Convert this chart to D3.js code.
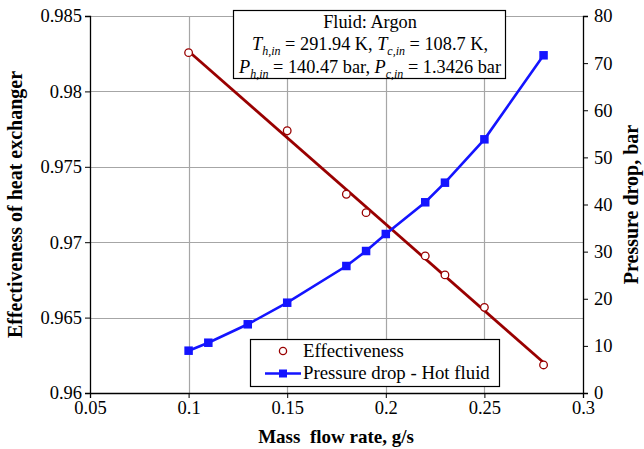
<!DOCTYPE html>
<html>
<head>
<meta charset="utf-8">
<script src="https://cdn.jsdelivr.net/npm/d3@7/dist/d3.min.js"></script>
<style>
  html, body { margin: 0; padding: 0; background: #fff; }
  svg { display: block; }
</style>
</head>
<body>
<svg id="chart" width="644" height="449"></svg>
<script>
// Mass flow rate, g/s
const effFlow = [0.10, 0.15, 0.18, 0.19, 0.22, 0.23, 0.25, 0.28];
// Effectiveness of heat exchanger
const effectiveness = [0.98257, 0.97739, 0.97318, 0.97196, 0.96909, 0.96783, 0.96568, 0.96186];

const dpFlow = [0.10, 0.11, 0.13, 0.15, 0.18, 0.19, 0.20, 0.22, 0.23, 0.25, 0.28];
// Pressure drop of the hot fluid, bar
const pressureDrop = [8.98, 10.67, 14.58, 19.16, 26.95, 30.13, 33.74, 40.47, 44.63, 53.83, 71.66];

const xTicks = [0.05, 0.10, 0.15, 0.20, 0.25, 0.30];
const yLeftTicks = [0.96, 0.965, 0.97, 0.975, 0.98, 0.985];
const yRightTicks = [0, 10, 20, 30, 40, 50, 60, 70, 80];

const FONT = "Liberation Serif";
const svg = d3.select("#chart").style("font-family", FONT);
const m = { left: 90, right: 583, top: 16, bottom: 393 };

const x = d3.scaleLinear().domain([0.05, 0.30]).range([m.left, m.right]);
const yL = d3.scaleLinear().domain([0.96, 0.985]).range([m.bottom, m.top]);
const yR = d3.scaleLinear().domain([0, 80]).range([m.bottom, m.top]);

const red = "#990000";
const blue = "#1414ff";

// grid
const grid = svg.append("g").attr("stroke", "#a6a6a6").attr("stroke-width", 1.2);
grid.selectAll("line.h").data(yLeftTicks.slice(1)).join("line")
  .attr("x1", m.left).attr("x2", m.right)
  .attr("y1", d => Math.round(yL(d)) + 0.5).attr("y2", d => Math.round(yL(d)) + 0.5);
grid.selectAll("line.v").data(xTicks.slice(1, -1)).join("line")
  .attr("y1", m.top).attr("y2", m.bottom)
  .attr("x1", d => Math.round(x(d)) + 0.5).attr("x2", d => Math.round(x(d)) + 0.5);

// axes
const fmtX = d => String(+d.toFixed(2));
const styleAxis = g => {
  g.attr("font-family", null);
  g.select(".domain").attr("stroke", "#000").attr("stroke-width", 1.3);
  g.selectAll(".tick line").attr("stroke", "#000");
  g.selectAll("text").attr("fill", "#000").style("font-size", "18.5px").style("font-family", FONT);
};

const gx = svg.append("g").attr("transform", `translate(0,${m.bottom})`)
  .call(d3.axisBottom(x).tickValues(xTicks).tickFormat(fmtX).tickSize(5).tickPadding(3));
styleAxis(gx);

const gl = svg.append("g").attr("transform", `translate(${m.left},0)`)
  .call(d3.axisLeft(yL).tickValues(yLeftTicks).tickFormat(d => String(+d.toFixed(3))).tickSize(5).tickPadding(3));
styleAxis(gl);

const gr = svg.append("g").attr("transform", `translate(${m.right},0)`)
  .call(d3.axisRight(yR).tickValues(yRightTicks).tickSize(5).tickPadding(6));
styleAxis(gr);

// axis titles
const title = (sel, size) => sel.style("font-family", FONT).style("font-size", size + "px").style("font-weight", "bold");
svg.append("text").attr("x", 336).attr("y", 443).attr("text-anchor", "middle")
  .style("white-space", "pre").call(title, 19)
  .text("Mass  flow rate, g/s");
svg.append("text").attr("transform", `translate(22,${(m.top + m.bottom) / 2}) rotate(-90)`)
  .attr("text-anchor", "middle").call(title, 20)
  .text("Effectiveness of heat exchanger");
svg.append("text").attr("transform", `translate(638,${(m.top + m.bottom) / 2}) rotate(-90)`)
  .attr("text-anchor", "middle").call(title, 20)
  .text("Pressure drop, bar");

// linear trend of effectiveness (least squares)
const mx = d3.mean(effFlow), my = d3.mean(effectiveness);
const sxy = d3.sum(effFlow, (v, i) => (v - mx) * (effectiveness[i] - my));
const sxx = d3.sum(effFlow, v => (v - mx) ** 2);
const slope = sxy / sxx, icpt = my - slope * mx;
const xr = d3.extent(effFlow);
svg.append("line")
  .attr("x1", x(xr[0])).attr("y1", yL(icpt + slope * xr[0]))
  .attr("x2", x(xr[1])).attr("y2", yL(icpt + slope * xr[1]))
  .attr("stroke", red).attr("stroke-width", 2.8);

// pressure drop series
const dpData = dpFlow.map((v, i) => [v, pressureDrop[i]]);
svg.append("path").datum(dpData)
  .attr("fill", "none").attr("stroke", blue).attr("stroke-width", 2.6)
  .attr("d", d3.line().x(d => x(d[0])).y(d => yR(d[1])));
svg.selectAll("rect.dp").data(dpData).join("rect")
  .attr("x", d => x(d[0]) - 4.25).attr("y", d => yR(d[1]) - 4.25)
  .attr("width", 8.5).attr("height", 8.5).attr("fill", blue);

// effectiveness markers
svg.selectAll("circle.eff").data(effFlow.map((v, i) => [v, effectiveness[i]])).join("circle")
  .attr("cx", d => x(d[0])).attr("cy", d => yL(d[1])).attr("r", 3.8)
  .attr("fill", "#fff").attr("stroke", red).attr("stroke-width", 1.3);

// fluid conditions box
const txt = (sel, size) => sel.style("font-family", FONT).style("font-size", size + "px");
const box = svg.append("g");
box.append("rect").attr("x", 233.5).attr("y", 10.5).attr("width", 272).attr("height", 68)
  .attr("fill", "#fff").attr("stroke", "#000").attr("stroke-width", 1.2);
box.append("text").attr("x", 370).attr("y", 28).attr("text-anchor", "middle").call(txt, 18.3)
  .text("Fluid: Argon");

function condLine(y, sym, v1, v2) {
  const t = box.append("text").attr("x", 370).attr("y", y).attr("text-anchor", "middle").call(txt, 18.3);
  t.append("tspan").style("font-style", "italic").text(sym);
  t.append("tspan").style("font-style", "italic").style("font-size", "12px").attr("dy", 5).text("h,in");
  t.append("tspan").attr("dy", -5).text(v1);
  t.append("tspan").style("font-style", "italic").text(sym);
  t.append("tspan").style("font-style", "italic").style("font-size", "12px").attr("dy", 5).text("c,in");
  t.append("tspan").attr("dy", -5).text(v2);
}
condLine(49.5, "T", " = 291.94 K, ", " = 108.7 K,");
condLine(72.5, "P", " = 140.47 bar, ", " = 1.3426 bar");

// legend
const lg = svg.append("g");
lg.append("rect").attr("x", 250.5).attr("y", 339.5).attr("width", 249).attr("height", 47)
  .attr("fill", "#fff").attr("stroke", "#000").attr("stroke-width", 1.2);
lg.append("circle").attr("cx", 283).attr("cy", 351).attr("r", 3.6)
  .attr("fill", "#fff").attr("stroke", red).attr("stroke-width", 1.3);
lg.append("text").attr("x", 303).attr("y", 356.7).call(txt, 18.8).text("Effectiveness");
lg.append("line").attr("x1", 265).attr("x2", 301).attr("y1", 373.5).attr("y2", 373.5)
  .attr("stroke", blue).attr("stroke-width", 2.6);
lg.append("rect").attr("x", 279).attr("y", 369.5).attr("width", 8).attr("height", 8).attr("fill", blue);
lg.append("text").attr("x", 303).attr("y", 379.3).call(txt, 18.8).text("Pressure drop - Hot fluid");
</script>
</body>
</html>
